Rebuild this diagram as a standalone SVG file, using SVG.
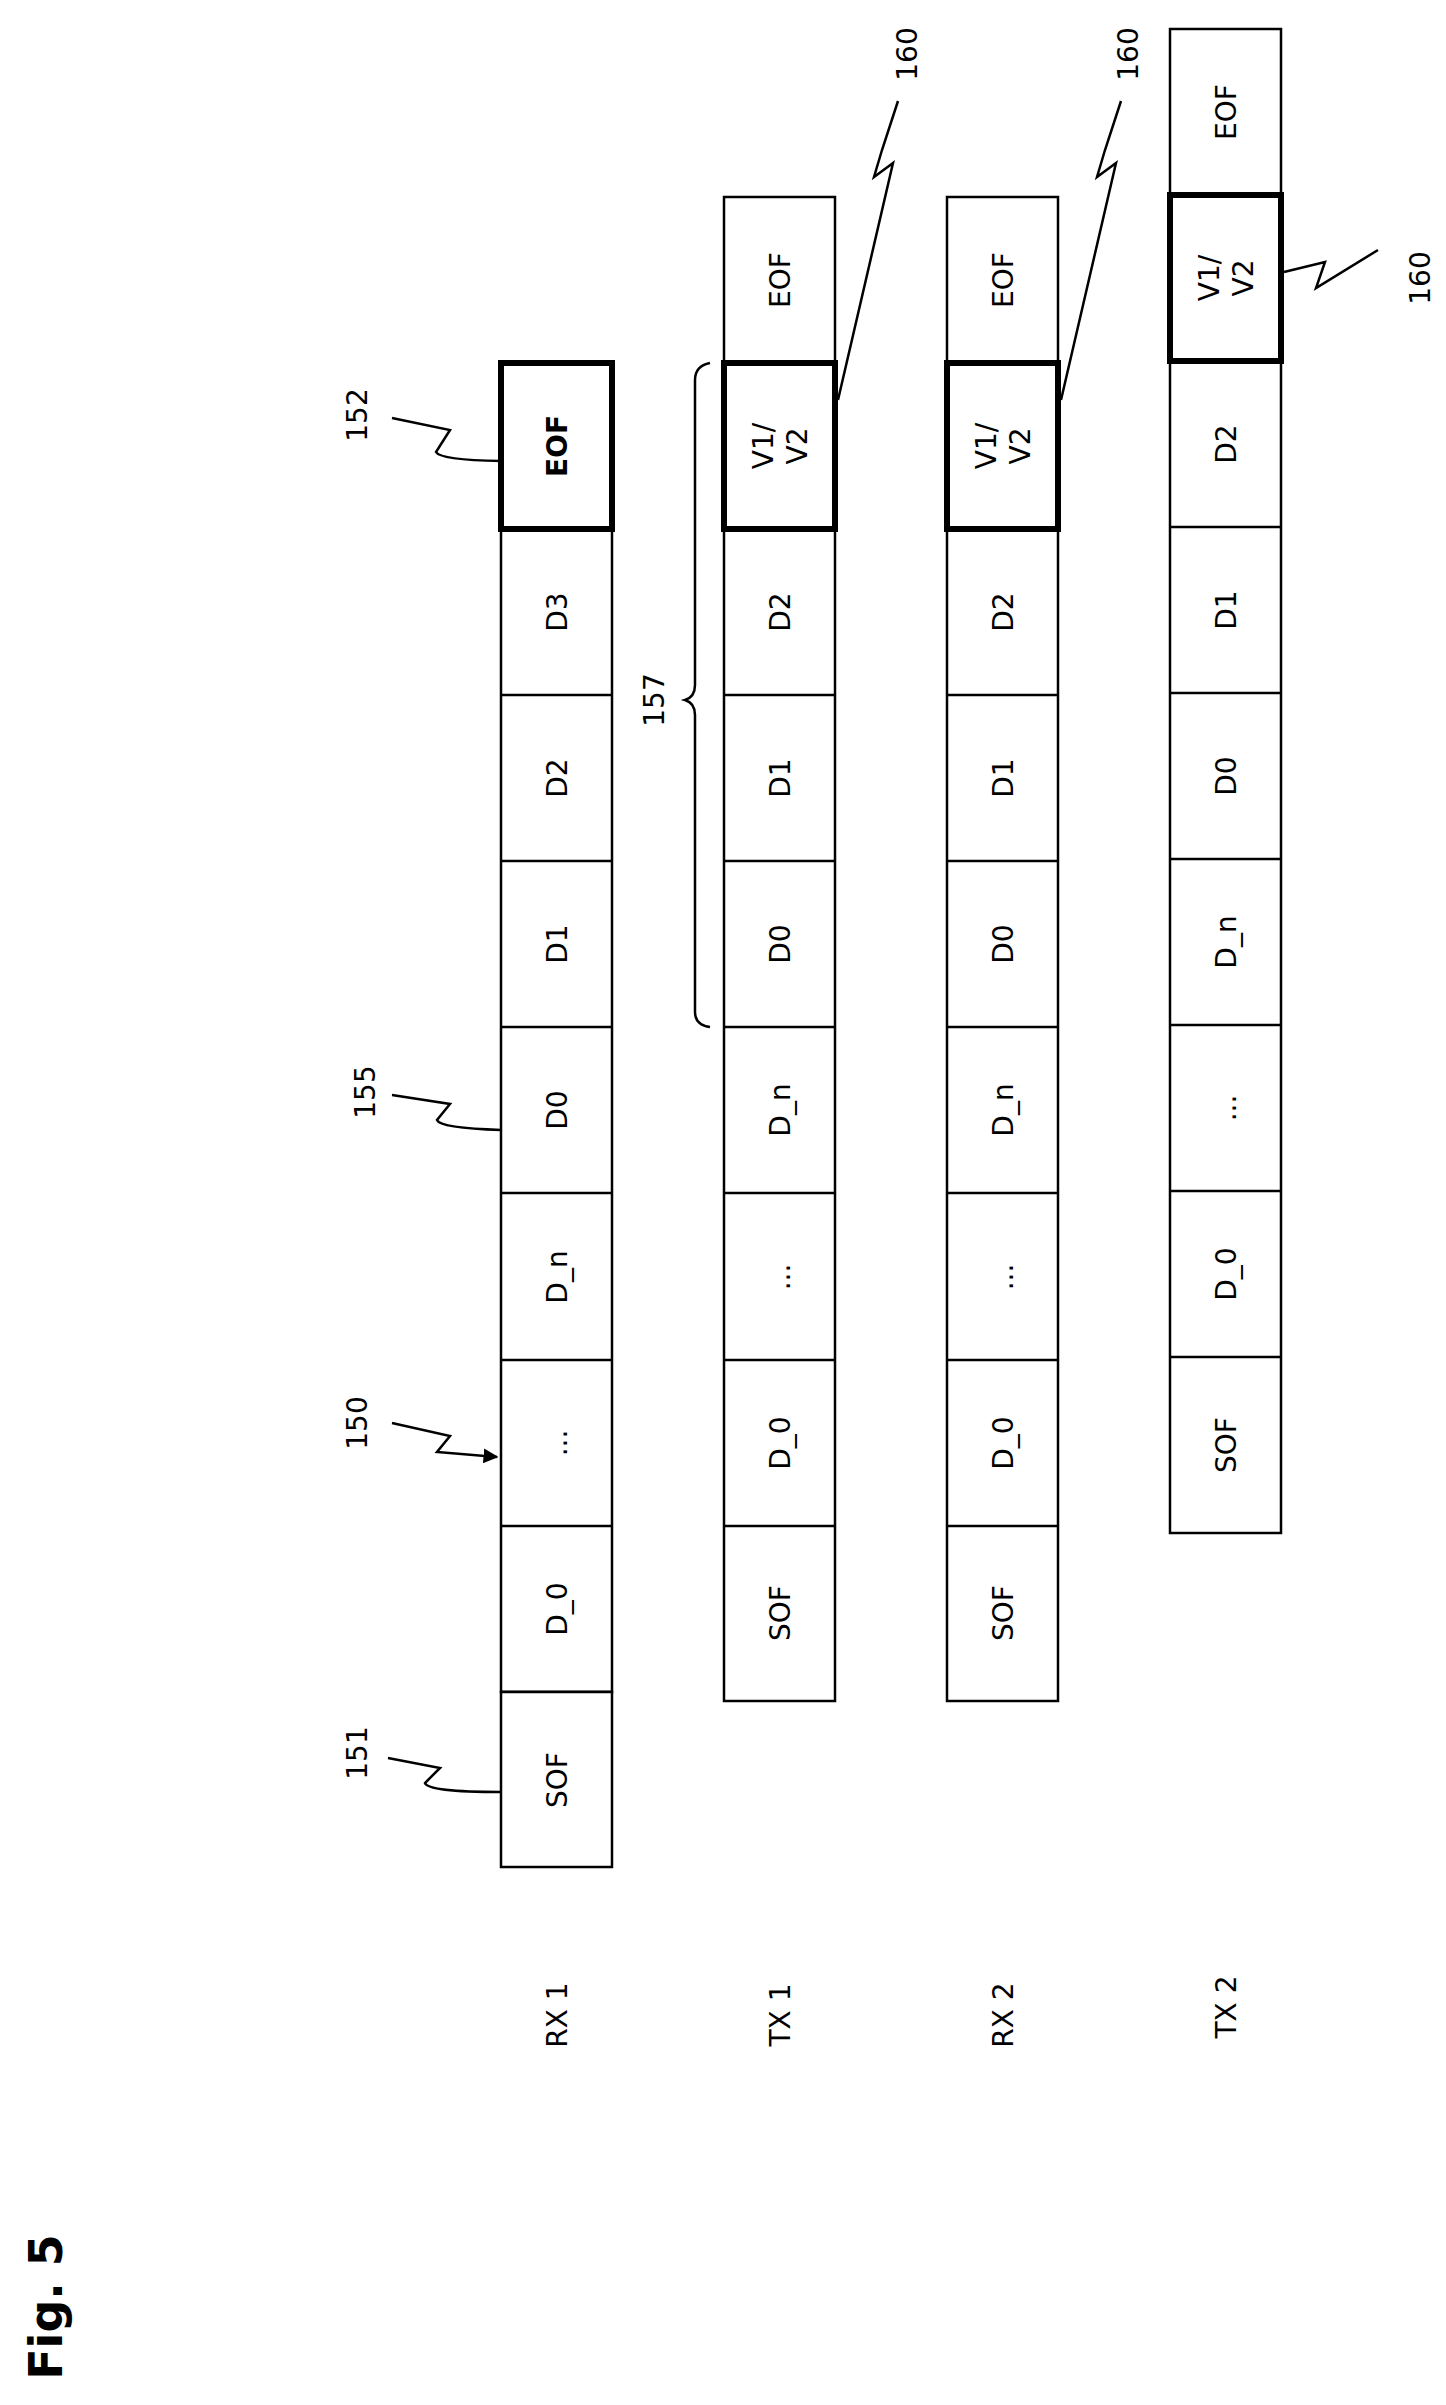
<svg xmlns="http://www.w3.org/2000/svg" width="1446" height="2405" viewBox="0 0 1446 2405">
<style>
.c{fill:#fff;stroke:#000;stroke-width:2.5}
.k{fill:#fff;stroke:#000;stroke-width:6}
.t{font-family:"DejaVu Sans",sans-serif;font-size:28px;text-anchor:middle;dominant-baseline:central}
.b{font-weight:bold}
.l{fill:none;stroke:#000;stroke-width:2.5}
</style>
<defs><marker id="a" viewBox="0 0 10 10" refX="9" refY="5" markerWidth="6" markerHeight="6" orient="auto"><path d="M0,0 L10,5 L0,10 z"/></marker></defs>
<g id="rx1">
<rect class="c" x="501" y="529" width="111" height="1163"/>
<g class="l"><path d="M501,695H612M501,861H612M501,1027H612M501,1193H612M501,1360H612M501,1526H612M501,1692H612"/></g>
<rect class="c" x="501" y="1692" width="111" height="175"/>
<rect class="k" x="501" y="363" width="111" height="166"/>
<text class="t b" transform="translate(557,446) rotate(-90)">EOF</text>
<text class="t" transform="translate(557,612) rotate(-90)">D3</text>
<text class="t" transform="translate(557,778) rotate(-90)">D2</text>
<text class="t" transform="translate(557,944) rotate(-90)">D1</text>
<text class="t" transform="translate(557,1110) rotate(-90)">D0</text>
<text class="t" transform="translate(557,1277) rotate(-90)">D_n</text>
<text class="t" transform="translate(557,1443) rotate(-90)">...</text>
<text class="t" transform="translate(557,1609) rotate(-90)">D_0</text>
<text class="t" transform="translate(557,1780) rotate(-90)">SOF</text>
<text class="t" transform="translate(557,2015) rotate(-90)">RX 1</text>
</g>
<g id="tx1">
<rect class="c" x="724" y="197" width="111" height="1504"/>
<g class="l"><path d="M724,363H835M724,529H835M724,695H835M724,861H835M724,1027H835M724,1193H835M724,1360H835M724,1526H835"/></g>
<rect class="k" x="724" y="363" width="111" height="166"/>
<text class="t" transform="translate(780,280) rotate(-90)">EOF</text>
<text class="t" transform="translate(780,446) rotate(-90)"><tspan x="0" y="-17">V1/</tspan><tspan x="0" y="17">V2</tspan></text>
<text class="t" transform="translate(780,612) rotate(-90)">D2</text>
<text class="t" transform="translate(780,778) rotate(-90)">D1</text>
<text class="t" transform="translate(780,944) rotate(-90)">D0</text>
<text class="t" transform="translate(780,1110) rotate(-90)">D_n</text>
<text class="t" transform="translate(780,1277) rotate(-90)">...</text>
<text class="t" transform="translate(780,1443) rotate(-90)">D_0</text>
<text class="t" transform="translate(780,1613) rotate(-90)">SOF</text>
<text class="t" transform="translate(780,2015) rotate(-90)">TX 1</text>
</g>
<g id="rx2">
<rect class="c" x="947" y="197" width="111" height="1504"/>
<g class="l"><path d="M947,363H1058M947,529H1058M947,695H1058M947,861H1058M947,1027H1058M947,1193H1058M947,1360H1058M947,1526H1058"/></g>
<rect class="k" x="947" y="363" width="111" height="166"/>
<text class="t" transform="translate(1003,280) rotate(-90)">EOF</text>
<text class="t" transform="translate(1003,446) rotate(-90)"><tspan x="0" y="-17">V1/</tspan><tspan x="0" y="17">V2</tspan></text>
<text class="t" transform="translate(1003,612) rotate(-90)">D2</text>
<text class="t" transform="translate(1003,778) rotate(-90)">D1</text>
<text class="t" transform="translate(1003,944) rotate(-90)">D0</text>
<text class="t" transform="translate(1003,1110) rotate(-90)">D_n</text>
<text class="t" transform="translate(1003,1277) rotate(-90)">...</text>
<text class="t" transform="translate(1003,1443) rotate(-90)">D_0</text>
<text class="t" transform="translate(1003,1613) rotate(-90)">SOF</text>
<text class="t" transform="translate(1003,2015) rotate(-90)">RX 2</text>
</g>
<g id="tx2">
<rect class="c" x="1170" y="29" width="111" height="1504"/>
<g class="l"><path d="M1170,195H1281M1170,361H1281M1170,527H1281M1170,693H1281M1170,859H1281M1170,1025H1281M1170,1191H1281M1170,1357H1281"/></g>
<rect class="k" x="1170" y="195" width="111" height="166"/>
<text class="t" transform="translate(1226,112) rotate(-90)">EOF</text>
<text class="t" transform="translate(1226,278) rotate(-90)"><tspan x="0" y="-17">V1/</tspan><tspan x="0" y="17">V2</tspan></text>
<text class="t" transform="translate(1226,444) rotate(-90)">D2</text>
<text class="t" transform="translate(1226,610) rotate(-90)">D1</text>
<text class="t" transform="translate(1226,776) rotate(-90)">D0</text>
<text class="t" transform="translate(1226,942) rotate(-90)">D_n</text>
<text class="t" transform="translate(1226,1108) rotate(-90)">...</text>
<text class="t" transform="translate(1226,1274) rotate(-90)">D_0</text>
<text class="t" transform="translate(1226,1445) rotate(-90)">SOF</text>
<text class="t" transform="translate(1226,2007) rotate(-90)">TX 2</text>
</g>
<g id="labels">
<text class="t" transform="translate(357,1753) rotate(-90)">151</text>
<text class="t" transform="translate(357,1423) rotate(-90)">150</text>
<text class="t" transform="translate(365,1092) rotate(-90)">155</text>
<text class="t" transform="translate(357,415) rotate(-90)">152</text>
<text class="t" transform="translate(654,700) rotate(-90)">157</text>
<text class="t" transform="translate(907,54) rotate(-90)">160</text>
<text class="t" transform="translate(1128,54) rotate(-90)">160</text>
<text class="t" transform="translate(1420,278) rotate(-90)">160</text>
<text class="t b" style="font-size:46px" transform="translate(46,2307) rotate(-90)">Fig. 5</text>
</g>
<g id="connectors" class="l">
<path d="M388,1758 L440,1768 L425,1783 Q428,1792 501,1792"/>
<path d="M392,1423 L450,1436 L437,1452 L497,1457" marker-end="url(#a)"/>
<path d="M392,1095 L450,1104 L437,1120 Q440,1128 501,1130"/>
<path d="M392,418 L450,430 L436,452 Q440,460 501,461"/>
<path d="M838,400 L893,163 L874,177 L882,150 L898,101"/>
<path d="M1061,400 L1116,163 L1097,177 L1105,150 L1121,101"/>
<path d="M1284,272 L1325,262 L1316,288 L1378,250"/>
<path d="M710,363 Q695,366 695,380 L695,685 Q695,697 685,700 Q695,703 695,715 L695,1012 Q695,1025 710,1027"/>
</g>
</svg>
